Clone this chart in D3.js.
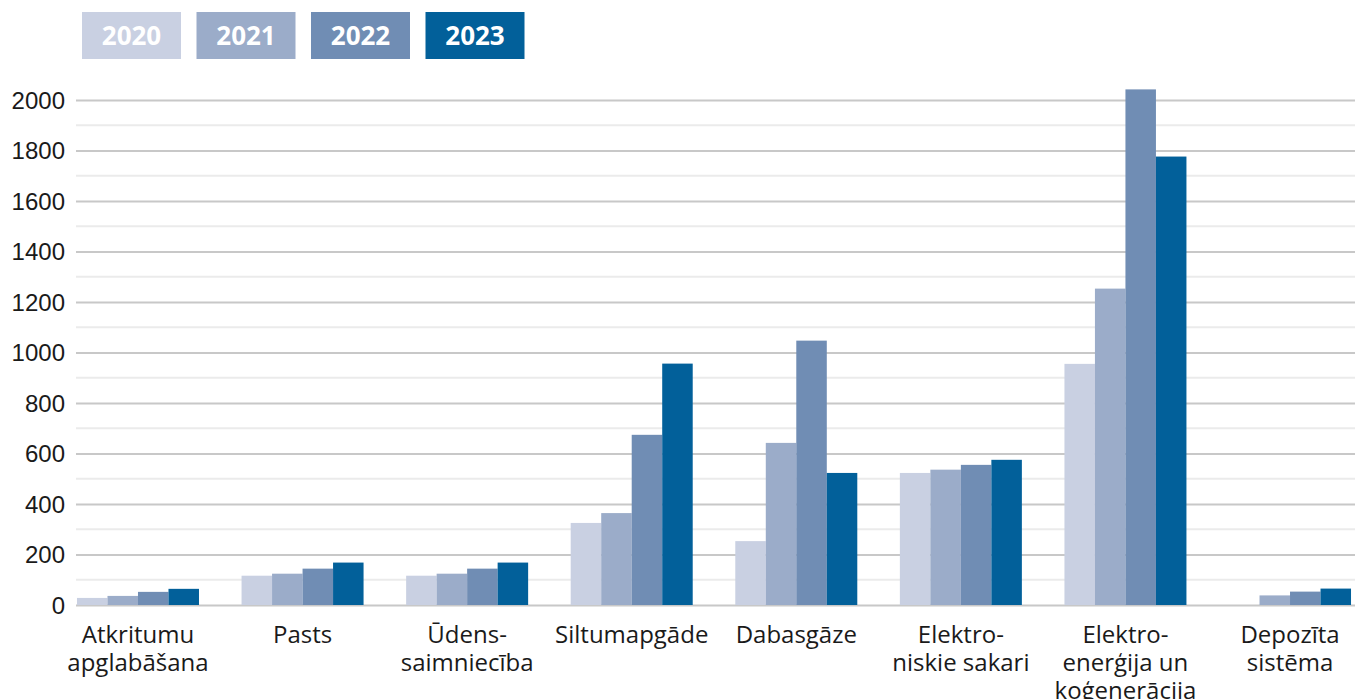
<!DOCTYPE html>
<html>
<head>
<meta charset="utf-8">
<script src="https://cdn.jsdelivr.net/npm/d3@7"></script>
<style>
    body{margin:0;background:#fff;}
    svg{display:block;font-family:'Open Sans',sans-serif;}
</style>
</head>
<body>
<div id="chart"></div>
<script>
(function(){
    'use strict';

    var categories = ['Atkritumu apglabāšana','Pasts','Ūdenssaimniecība','Siltumapgāde','Dabasgāze','Elektroniskie sakari','Elektroenerģija un koģenerācija','Depozīta sistēma'];
    var catLines = [['Atkritumu','apglabāšana'],['Pasts'],['Ūdens-','saimniecība'],['Siltumapgāde'],['Dabasgāze'],['Elektro-','niskie sakari'],['Elektro-','enerģija un','koģenerācija'],['Depozīta','sistēma']];
    var years = ['2020','2021','2022','2023'];
    var v2020 = [28, 116, 116, 325, 253, 523, 955, 0];
    var v2021 = [36, 124, 124, 364, 642, 536, 1253, 38];
    var v2022 = [52, 144, 144, 674, 1047, 555, 2042, 53];
    var v2023 = [64, 168, 168, 956, 523, 575, 1776, 65];
    var yTicks = [0,200,400,600,800,1000,1200,1400,1600,1800,2000];
    var colors = ['#c9d0e2','#9bacc9','#708db4','#02609a'];

    var series = [v2020, v2021, v2022, v2023];
    var W = 1355, H = 699;

    var svg = d3.select('#chart').append('svg')
        .attr('width', W).attr('height', H);

    var x = d3.scaleBand().domain(categories).range([55.7, 1372.3])
        .paddingInner(0.2587).paddingOuter(0.1293);
    var xi = d3.scaleBand().domain(years).range([0, x.bandwidth()]);
    var y = d3.scaleLinear().domain([0, 2000]).range([605, 100]);

    // grid: minor every 100, major every 200
    var minor = d3.range(100, 2000, 200);
    svg.append('g').selectAll('line').data(minor).enter().append('line')
        .attr('x1', 76).attr('x2', W)
        .attr('y1', function(d){return y(d);}).attr('y2', function(d){return y(d);})
        .attr('stroke', '#ebebeb').attr('stroke-width', 2);

    var yAxis = svg.append('g').attr('transform', 'translate(76,0)')
        .call(d3.axisLeft(y).tickValues(yTicks).tickFormat(d3.format('d'))
            .tickSize(-(W-76)).tickPadding(11));
    yAxis.select('.domain').remove();
    yAxis.selectAll('.tick line').attr('stroke', '#c8c8c8').attr('stroke-width', 2);
    yAxis.selectAll('.tick text').attr('fill', '#1a1a1a').style('font-size', '24px')
        .attr('dy', '0.35em');

    // bars
    var groups = svg.append('g').selectAll('g').data(categories).enter().append('g')
        .attr('transform', function(d){return 'translate(' + x(d) + ',0)';});
    groups.selectAll('rect').data(function(d, i){
            return years.map(function(yr, j){return {year: yr, value: series[j][i], k: j};});
        }).enter().append('rect')
        .attr('x', function(d){return xi(d.year);})
        .attr('width', xi.bandwidth())
        .attr('y', function(d){return y(d.value);})
        .attr('height', function(d){return y(0) - y(d.value);})
        .attr('fill', function(d){return colors[d.k];});

    // x labels
    var labels = svg.append('g').selectAll('text').data(categories).enter().append('text')
        .attr('x', function(d){return x(d) + x.bandwidth()/2;})
        .attr('y', 643)
        .attr('text-anchor', 'middle')
        .attr('fill', '#1a1a1a')
        .style('font-size', '24px');
    labels.selectAll('tspan').data(function(d, i){return catLines[i];}).enter().append('tspan')
        .attr('x', function(){return d3.select(this.parentNode).attr('x');})
        .attr('dy', function(d, i){return i === 0 ? 0 : 28;})
        .text(function(d){return d;});

    // legend
    var leg = svg.append('g').selectAll('g').data(years).enter().append('g')
        .attr('transform', function(d, i){return 'translate(' + (82 + i*114.5) + ',12)';});
    leg.append('rect').attr('width', 99).attr('height', 47)
        .attr('fill', function(d, i){return colors[i];});
    leg.append('text').attr('x', 49.5).attr('y', 24).attr('dy', '0.36em')
        .attr('text-anchor', 'middle').attr('fill', '#fff')
        .style('font-size', '26px').style('font-weight', 'bold')
        .text(function(d){return d;});
}());
</script>
</body>
</html>
